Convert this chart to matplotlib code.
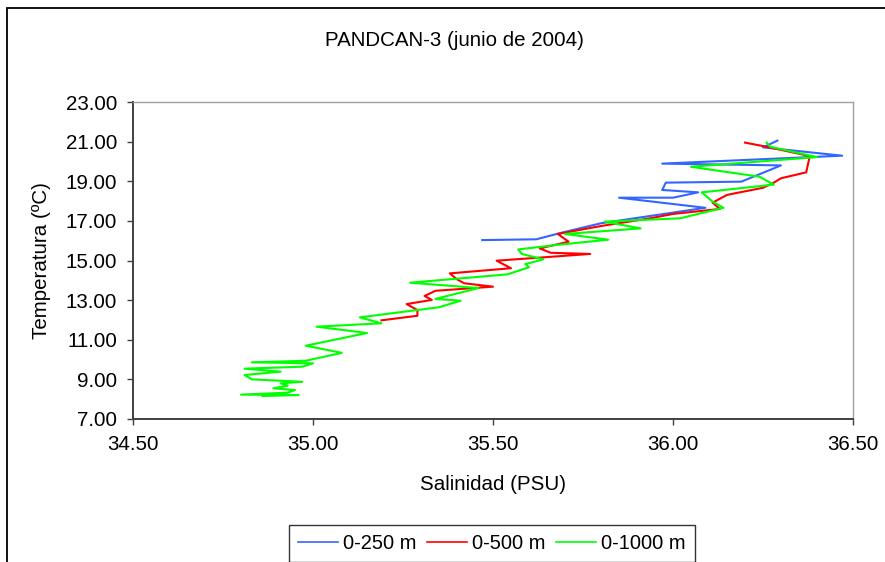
import matplotlib
matplotlib.use("Agg")
import matplotlib.pyplot as plt
from matplotlib.patches import Rectangle
from matplotlib.ticker import FormatStrFormatter

plt.rcParams["font.family"] = ["Liberation Sans", "DejaVu Sans"]

# --- perfiles T-S, PANDCAN-3 ---
sal_250 = [36.29, 36.25, 36.47, 35.97, 36.30, 36.19, 35.98, 35.97, 36.07, 36.00,
           35.85, 36.09, 35.80, 35.69, 35.62, 35.47]
temp_250 = [21.05, 20.71, 20.29, 19.89, 19.80, 18.98, 18.93, 18.56, 18.44, 18.17,
            18.17, 17.66, 16.88, 16.40, 16.07, 16.03]

sal_500 = [36.20, 36.26, 36.38, 36.37, 36.30, 36.28, 36.25, 36.18, 36.15, 36.11,
           36.13, 36.00, 35.94, 35.80, 35.68, 35.71, 35.63, 35.66, 35.77, 35.51,
           35.55, 35.38, 35.40, 35.42, 35.50, 35.34, 35.31, 35.33, 35.26, 35.29,
           35.29, 35.19]
temp_500 = [20.95, 20.74, 20.27, 19.45, 19.15, 18.93, 18.67, 18.42, 18.31, 17.92,
            17.60, 17.35, 17.14, 16.74, 16.34, 15.95, 15.61, 15.39, 15.33, 14.99,
            14.61, 14.35, 14.05, 13.85, 13.68, 13.47, 13.21, 13.01, 12.80, 12.50,
            12.21, 11.98]

sal_1000 = [36.26, 36.27, 36.40, 36.05, 36.24, 36.28, 36.08, 36.11, 36.14, 36.02,
            35.81, 35.91, 35.70, 35.82, 35.69, 35.57, 35.58, 35.64, 35.59, 35.60,
            35.54, 35.27, 35.46, 35.34, 35.41, 35.35, 35.19, 35.13, 35.19, 35.01,
            35.15, 34.98, 35.08, 34.98, 34.83, 35.00, 34.97, 34.81, 34.91, 34.81,
            34.83, 34.97, 34.91, 34.93, 34.89, 34.95, 34.93, 34.80, 34.96, 34.86]
temp_1000 = [20.95, 20.74, 20.22, 19.73, 19.23, 18.83, 18.44, 17.97, 17.66, 17.13,
             16.96, 16.62, 16.34, 16.05, 15.81, 15.56, 15.33, 15.06, 14.82, 14.66,
             14.30, 13.88, 13.61, 13.06, 12.97, 12.64, 12.27, 12.13, 11.83, 11.66,
             11.34, 10.70, 10.34, 9.94, 9.86, 9.81, 9.64, 9.54, 9.39, 9.22,
             9.00, 8.88, 8.80, 8.68, 8.55, 8.46, 8.33, 8.23, 8.21, 8.16]

x_ticks = [34.5, 35.0, 35.5, 36.0, 36.5]
y_ticks = [7, 9, 11, 13, 15, 17, 19, 21, 23]

FS = 14.8
FS_LEG = 14.5

fig = plt.figure(figsize=(8.85, 5.62), dpi=100)
W, H = 885, 562

# marco exterior del grafico
fig.patches.append(Rectangle((7 / W, -0.1), 1.2, 1.1 - 8 / H, transform=fig.transFigure,
                             fill=False, edgecolor="black", linewidth=1.3))

ax = fig.add_axes([133 / W, 1 - 419 / H, 720 / W, 317 / H])

ax.plot(sal_250, temp_250, color="#3366ff", lw=1.5, label="0-250 m")
ax.plot(sal_500, temp_500, color="#ff0000", lw=1.5, label="0-500 m")
ax.plot(sal_1000, temp_1000, color="#00ff00", lw=1.5, label="0-1000 m")

ax.set_xlim(34.5, 36.5)
ax.set_ylim(7, 23)
ax.set_xticks(x_ticks)
ax.set_yticks(y_ticks)
ax.xaxis.set_major_formatter(FormatStrFormatter("%.2f"))
ax.yaxis.set_major_formatter(FormatStrFormatter("%.2f"))
ax.tick_params(axis="both", direction="out", length=4.5, width=1, color="#404040",
               labelsize=FS, labelcolor="black")
ax.tick_params(axis="x", pad=7)
ax.tick_params(axis="y", pad=7)

for s in ("left", "bottom"):
    ax.spines[s].set_color("#404040")
    ax.spines[s].set_linewidth(1.4)
for s in ("top", "right"):
    ax.spines[s].set_color("#a0a0a0")
    ax.spines[s].set_linewidth(1.0)

ax.set_xlabel("Salinidad (PSU)", fontsize=FS)
ax.xaxis.set_label_coords(0.5, -(485 - 419) / 317)
ax.xaxis.label.set_va("center")
ax.set_ylabel("Temperatura (ºC)", fontsize=FS)
ax.yaxis.set_label_coords((42 - 133) / 720, 0.5)
ax.yaxis.label.set_va("center")
ax.yaxis.label.set_ha("center")

fig.text(454 / W, 1 - 40 / H, "PANDCAN-3 (junio de 2004)", ha="center", va="center",
         fontsize=FS)

leg = fig.legend(loc="upper left", bbox_to_anchor=(289 / W, 1 - 525 / H), ncol=3,
                 fontsize=FS_LEG, frameon=True, fancybox=False, shadow=False,
                 handlelength=2.0, handletextpad=0.25, columnspacing=0.5,
                 borderpad=0.45, borderaxespad=0)
leg.get_frame().set_edgecolor("black")
leg.get_frame().set_linewidth(1.0)
for h in leg.get_lines():
    h.set_linewidth(1.2)

fig.savefig("out.png", dpi=100)
